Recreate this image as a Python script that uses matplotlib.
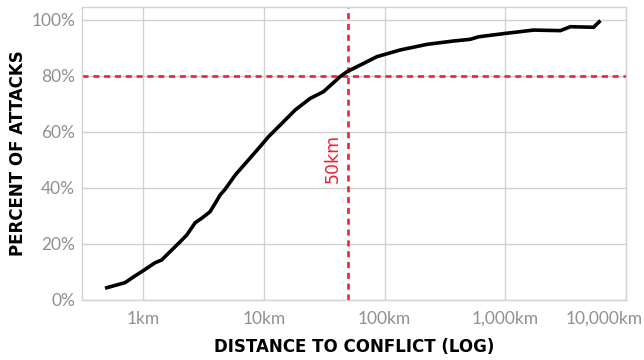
import matplotlib
matplotlib.use("Agg")
import matplotlib.pyplot as plt
from matplotlib.transforms import ScaledTranslation
import numpy as np

# Data
distance_km = [0.481, 0.705, 0.853, 1.0, 1.25, 1.42, 1.67, 2.02, 2.29, 2.69, 3.05,
               3.57, 3.94, 4.33, 4.76, 5.77, 7.43, 9.3, 10.9, 14.1, 18.2, 24.2, 31.2,
               42.9, 48.7, 62.9, 86.5, 135, 225, 374, 514, 603, 1000, 1726, 2870, 3476,
               5420, 6170]
percent_attacks = [4.2, 6.2, 8.6, 10.5, 13.3, 14.3, 17.3, 20.8, 23.2, 27.6, 29.2,
                   31.5, 34.5, 37.5, 39.5, 44.6, 50.0, 54.8, 58.3, 63.1, 67.9, 72.0, 74.4,
                   79.8, 81.5, 83.9, 86.9, 89.3, 91.3, 92.5, 93.1, 94.0, 95.2, 96.4, 96.2,
                   97.6, 97.4, 99.8]
x_ticks = [1, 10, 100, 1000, 10000]
x_tick_labels = ["1km", "10km", "100km", "1,000km", "10,000km"]
y_ticks = [0, 20, 40, 60, 80, 100]
y_tick_labels = ["0%", "20%", "40%", "60%", "80%", "100%"]
ref_distance = 50
ref_percent = 80

RED = "#ee2233"
GRID = "#d2d2d2"
TICK = "#909090"

fig = plt.figure(figsize=(6.44, 3.6), dpi=100)
ax = fig.add_axes([82/644, 60/360, (625.7-82)/644, (300-7)/360])

ax.set_xscale("log")
ax.set_xlim(0.31, 10000)
ax.set_ylim(0, 104.64)

ax.grid(True, color=GRID, linewidth=1.0)
ax.set_axisbelow(True)
ax.minorticks_off()
for s in ax.spines.values():
    s.set_color(GRID)
    s.set_linewidth(1.0)

ax.plot(distance_km, percent_attacks, color="black", linewidth=2.6,
        solid_capstyle="butt", solid_joinstyle="round", zorder=3)

ax.axhline(ref_percent, color=RED, linewidth=1.9, dashes=(2.3, 1.8), zorder=2)
ax.axvline(ref_distance, color=RED, linewidth=1.9, dashes=(2.3, 1.8), zorder=2)

off = ScaledTranslation(-16/100, 0, fig.dpi_scale_trans)
ax.text(ref_distance, 50.4, "50km", rotation=90, color=RED, fontsize=12.5,
        family="DejaVu Sans", ha="center", va="center",
        transform=ax.transData + off)

ax.set_xticks(x_ticks)
ax.set_xticklabels(x_tick_labels)
ax.set_yticks(y_ticks)
ax.set_yticklabels(y_tick_labels)
ax.tick_params(axis="both", length=0, colors=TICK, labelsize=12.5)
ax.tick_params(axis="x", pad=8)
ax.tick_params(axis="y", pad=5)
for lab in ax.get_xticklabels() + ax.get_yticklabels():
    lab.set_family("Lato")
    lab.set_color(TICK)
last = ax.get_xticklabels()[-1]
last.set_transform(last.get_transform() + ScaledTranslation(-22/100, 0, fig.dpi_scale_trans))

fig.text(354/644, 1-347/360, "DISTANCE TO CONFLICT (LOG)", ha="center", va="center",
         fontsize=12, fontweight="bold", family="DejaVu Sans", color="black")
fig.text(18.5/644, 1-153.5/360, "PERCENT OF ATTACKS", ha="center", va="center",
         rotation=90, fontsize=12, fontweight="bold", family="DejaVu Sans", color="black")

fig.savefig("out.png", dpi=100)
